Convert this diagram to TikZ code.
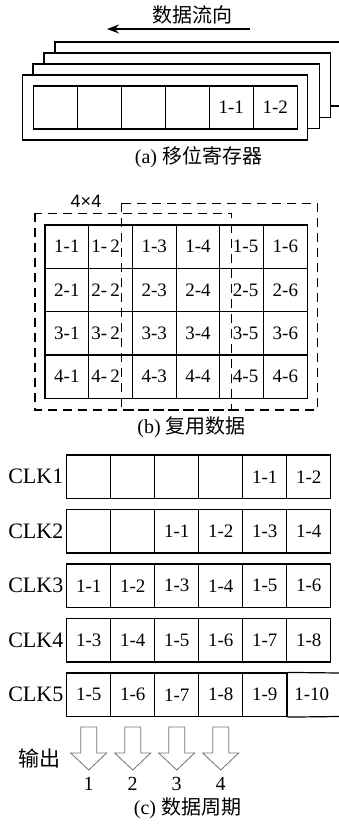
\documentclass[tikz,border=0pt]{standalone}
\usepackage{fontspec}
\setmainfont{Liberation Serif}
\newfontfamily\cjk{Noto Sans CJK SC}
\newfontfamily\arialfont{Liberation Sans}
\usetikzlibrary{arrows.meta}
\begin{document}
\begin{tikzpicture}[x=1pt,y=-1pt,
  cell/.style={draw, line width=1.2pt, minimum width=44pt, minimum height=43.5pt, inner sep=0pt, font=\fontsize{19}{22}\selectfont},
  gcell/.style={draw, line width=1.2pt, minimum width=43.7pt, minimum height=43.3pt, inner sep=0pt, font=\fontsize{19}{22}\selectfont},
  plaintext/.style={inner sep=0pt, font=\fontsize{19}{22}\selectfont},
  regframe/.style={draw, line width=1.3pt, fill=white},
  dbox/.style={draw, line width=1.5pt, dash pattern=on 9pt off 6pt},
  clklab/.style={font=\fontsize{22}{24}\selectfont, anchor=east, inner sep=0pt},
  captext/.style={font=\fontsize{20}{24}\selectfont, inner sep=0pt},
  outarrow/.style={draw=black!55, line width=0.8pt, fill=white},
]
\useasboundingbox (0,0) rectangle (339,825);

% ---------- (a) ----------
\node[captext] (flow) at (192,15) {\cjk 数据流向};
\coordinate (fs) at (250,29);
\coordinate (fe) at (107,29);
\draw[line width=1.2pt, -{Stealth[length=12pt,width=9pt]}] (fs) -- (fe);

\draw[regframe] (339,42) -- (55,42) -- (55,106) -- (339,106);
\draw[regframe] (44,53) rectangle (330.7,117.3);
\draw[regframe] (33,64) rectangle (319.3,128.3);
\draw[regframe] (22.7,75) rectangle (307.3,140);

\node[cell, minimum height=43pt] (a1) at (55.3,107.5) {};
\node[cell, minimum height=43pt] (a2) at (99.3,107.5) {};
\node[cell, minimum height=43pt] (a3) at (143.3,107.5) {};
\node[cell, minimum height=43pt] (a4) at (187.3,107.5) {};
\node[cell, minimum height=43pt] (a5) at (231.3,107.5) {\raisebox{-3pt}{1-1}};
\node[cell, minimum height=43pt] (a6) at (275.3,107.5) {\raisebox{-3pt}{1-2}};

\node[captext] (capa) at (198.5,157) {(a) {\cjk 移位寄存器}};

% ---------- (b) ----------
\foreach \r/\y in {1/246.65,2/289.95,3/333.25,4/376.55}{
  \node[gcell] (b\r1) at (66.85,\y) {\r-1};
  \node[gcell] (b\r2) at (110.55,\y) {\r-\,2\hspace*{10pt}};
  \node[gcell] (b\r3) at (154.25,\y) {\r-3};
  \node[gcell] (b\r4) at (197.95,\y) {\r-4};
  \node[gcell] (b\r5) at (241.65,\y) {\hspace*{8pt}\r-5};
  \node[gcell] (b\r6) at (285.35,\y) {\r-6};
}
\draw[dbox] (35,213.3) rectangle (231.7,410);
\draw[dbox] (121.7,203.3) rectangle (317.3,410);
\node[font=\arialfont\fontsize{18}{20}\selectfont, inner sep=0pt] (k44) at (86,201.5) {4×4};

\node[captext] (capb) at (191.5,427) {(b) {\cjk 复用数据}};

% ---------- (c) ----------
% CLK1
\node[clklab] (clk1) at (63.5,476.75) {CLK1};
\node[cell] (c11) at (88.7,476.75) {};
\node[cell] (c12) at (132.7,476.75) {};
\node[cell] (c13) at (176.7,476.75) {};
\node[cell] (c14) at (220.7,476.75) {};
\node[cell] (c15) at (264.7,476.75) {1-1};
\node[cell] (c16) at (308.7,476.75) {1-2};
% CLK2
\node[clklab] (clk2) at (63.5,531.25) {CLK2};
\node[cell] (c21) at (88.7,531.25) {};
\node[cell] (c22) at (132.7,531.25) {};
\node[cell] (c23) at (176.7,531.25) {1-1};
\node[cell] (c24) at (220.7,531.25) {1-2};
\node[cell] (c25) at (264.7,531.25) {1-3};
\node[cell] (c26) at (308.7,531.25) {1-4};
% CLK3
\node[clklab] (clk3) at (63.5,585.75) {CLK3};
\node[cell] (c31) at (88.7,585.75) {1-1};
\node[cell] (c32) at (132.7,585.75) {1-2};
\node[cell] (c33) at (176.7,585.75) {1-3};
\node[cell] (c34) at (220.7,585.75) {1-4};
\node[cell] (c35) at (264.7,585.75) {1-5};
\node[cell] (c36) at (308.7,585.75) {1-6};
% CLK4
\node[clklab] (clk4) at (63.5,640.25) {CLK4};
\node[cell] (c41) at (88.7,640.25) {1-3};
\node[cell] (c42) at (132.7,640.25) {1-4};
\node[cell] (c43) at (176.7,640.25) {1-5};
\node[cell] (c44) at (220.7,640.25) {1-6};
\node[cell] (c45) at (264.7,640.25) {1-7};
\node[cell] (c46) at (308.7,640.25) {1-8};
% CLK5
\node[clklab] (clk5) at (63.5,694.75) {CLK5};
\node[cell] (c51) at (88.7,694.75) {1-5};
\node[cell] (c52) at (132.7,694.75) {1-6};
\node[cell] (c53) at (176.7,694.75) {1-7};
\node[cell] (c54) at (220.7,694.75) {1-8};
\node[cell] (c55) at (264.7,694.75) {1-9};
\node[plaintext] (c56) at (311.7,694.75) {1-10};
\coordinate (t5) at (339,673);
\coordinate (b5) at (339,716.5);
\draw[line width=1.2pt] (c55.north east) -- (t5);
\draw[line width=1.2pt] (c55.south east) -- (b5);
\draw[line width=2.2pt] (c55.north east) -- (c55.south east);

% output arrows
\node[font=\fontsize{21}{24}\selectfont\cjk, inner sep=0pt] (out) at (40,758) {输出};
\foreach \i/\cx in {1/88.7,2/132.7,3/176.7,4/220.7}{
  \draw[outarrow] (\cx-8,727) -- (\cx+8,727) -- (\cx+8,753) -- (\cx+18,753)
     -- (\cx,770) -- (\cx-18,753) -- (\cx-8,753) -- cycle;
  \node[font=\fontsize{20}{22}\selectfont, inner sep=0pt] (n\i) at (\cx,784) {\i};
}

\node[captext] (capc) at (187.5,808) {(c) {\cjk 数据周期}};
\end{tikzpicture}
\end{document}
